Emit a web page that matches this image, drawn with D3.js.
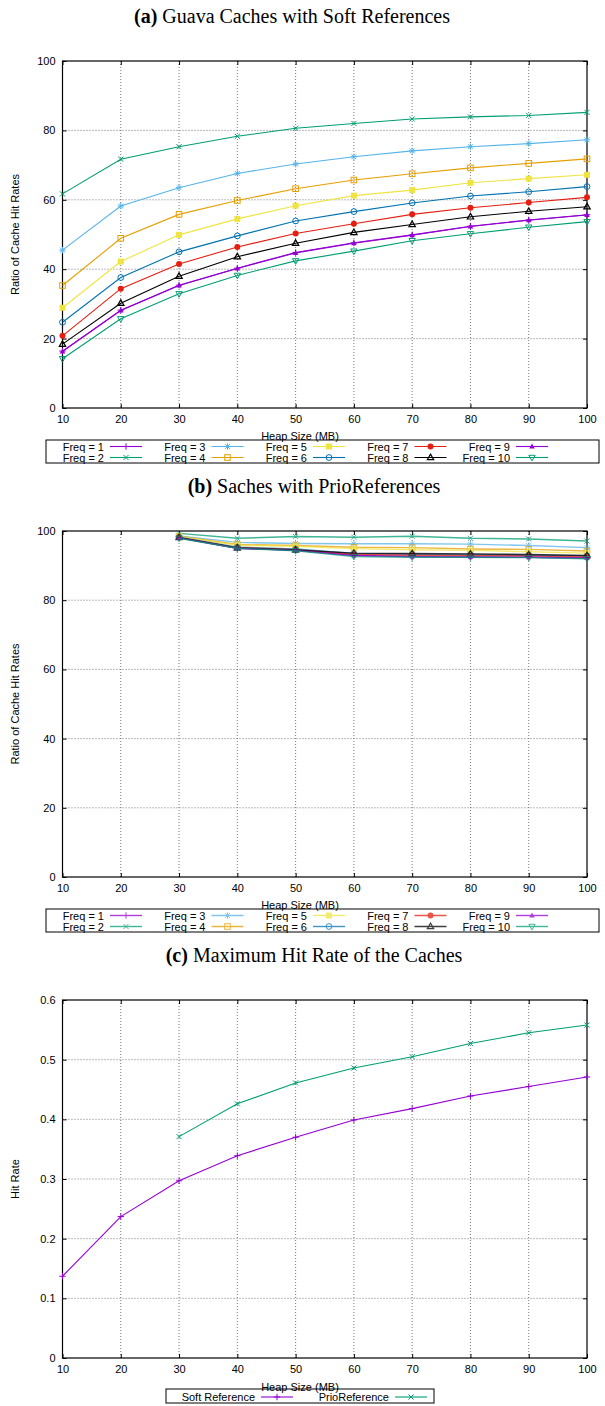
<!DOCTYPE html>
<html>
<head>
<meta charset="utf-8">
<script src="https://cdn.jsdelivr.net/npm/d3@7"></script>
<style>
  html, body { margin: 0; padding: 0; background: #fff; }
  svg { display: block; }
</style>
</head>
<body>
<svg id="chart" width="605" height="1406"></svg>
<script>
// ---------------- DATA ----------------
const heapSizes = [10, 20, 30, 40, 50, 60, 70, 80, 90, 100];
const heapSizesFrom30 = [30, 40, 50, 60, 70, 80, 90, 100];
const freqLabels = ["Freq = 1", "Freq = 2", "Freq = 3", "Freq = 4", "Freq = 5",
                    "Freq = 6", "Freq = 7", "Freq = 8", "Freq = 9", "Freq = 10"];
const xTicks = [10, 20, 30, 40, 50, 60, 70, 80, 90, 100];
const yTicksRatio = [0, 20, 40, 60, 80, 100];
const yTicksHit = [0, 0.1, 0.2, 0.3, 0.4, 0.5, 0.6];

// (a) Guava caches with soft references
const softFreq1  = [16.4, 28.2, 35.4, 40.3, 44.8, 47.6, 49.9, 52.4, 54.2, 55.7];
const softFreq2  = [61.7, 71.7, 75.3, 78.3, 80.6, 82.0, 83.3, 83.9, 84.3, 85.2];
const softFreq3  = [45.5, 58.2, 63.5, 67.6, 70.3, 72.4, 74.1, 75.3, 76.2, 77.3];
const softFreq4  = [35.3, 48.9, 55.8, 59.8, 63.2, 65.7, 67.5, 69.2, 70.5, 71.8];
const softFreq5  = [28.9, 42.2, 49.9, 54.5, 58.3, 61.2, 62.8, 64.9, 66.1, 67.2];
const softFreq6  = [24.7, 37.6, 45.0, 49.6, 53.9, 56.6, 59.1, 61.1, 62.3, 63.8];
const softFreq7  = [20.8, 34.4, 41.5, 46.4, 50.3, 53.1, 55.8, 57.7, 59.2, 60.7];
const softFreq8  = [18.4, 30.2, 38.0, 43.6, 47.5, 50.6, 52.9, 55.1, 56.7, 58.0];
const softFreq9  = [16.3, 28.1, 35.3, 40.2, 44.7, 47.5, 49.8, 52.3, 54.1, 55.6];
const softFreq10 = [14.2, 25.7, 32.9, 38.2, 42.4, 45.2, 48.2, 50.2, 52.1, 53.7];

// (b) caches with PrioReferences (heap 30..100)
const prioFreq1  = [98.0, 95.0, 94.4, 92.9, 92.6, 92.5, 92.4, 92.2];
const prioFreq2  = [99.3, 97.9, 98.4, 98.2, 98.5, 97.9, 97.7, 97.1];
const prioFreq3  = [98.6, 96.7, 96.4, 96.3, 96.3, 96.2, 95.8, 95.2];
const prioFreq4  = [98.5, 96.1, 95.8, 95.3, 95.2, 94.8, 94.7, 94.2];
const prioFreq5  = [98.4, 95.9, 95.6, 94.9, 94.6, 94.4, 94.0, 93.6];
const prioFreq6  = [98.2, 95.3, 94.8, 93.5, 93.3, 93.2, 93.0, 92.8];
const prioFreq7  = [98.1, 95.2, 94.6, 93.2, 93.0, 92.9, 92.8, 92.5];
const prioFreq8  = [98.1, 95.1, 94.5, 93.6, 93.5, 93.4, 93.2, 92.9];
const prioFreq9  = [98.0, 95.0, 94.4, 92.9, 92.6, 92.5, 92.4, 92.2];
const prioFreq10 = [97.9, 95.0, 94.3, 92.6, 92.4, 92.4, 92.3, 92.0];

// (c) maximum hit rate
const maxHitSoft = [0.137, 0.237, 0.297, 0.339, 0.370, 0.399, 0.418, 0.439, 0.455, 0.471];
const maxHitPrio = [0.371, 0.426, 0.461, 0.486, 0.505, 0.527, 0.545, 0.558];

// ---------------- STYLE ----------------
const freqColors = ["#9400d3", "#009e73", "#56b4e9", "#e69f00", "#f0e442",
                    "#0072b2", "#e51e10", "#000000", "#9400d3", "#009e73"];
const freqMarkers = ["plus", "cross", "star", "squareOpen", "squareFilled",
                     "circleOpen", "circleFilled", "triangleOpen", "triangleFilled", "triDownOpen"];

const svg = d3.select("#chart");
const FONT = '"Liberation Sans", Arial, Helvetica, sans-serif';
const SERIF = '"Liberation Serif", "Times New Roman", serif';

function drawMarker(g, type, x, y, color) {
  const s = 3.2;
  const sw = 1;
  switch (type) {
    case "plus":
      g.append("path").attr("d", `M${x - s},${y}H${x + s}M${x},${y - s}V${y + s}`)
        .attr("stroke", color).attr("stroke-width", sw).attr("fill", "none"); break;
    case "cross":
      g.append("path").attr("d", `M${x - s * 0.8},${y - s * 0.8}L${x + s * 0.8},${y + s * 0.8}M${x - s * 0.8},${y + s * 0.8}L${x + s * 0.8},${y - s * 0.8}`)
        .attr("stroke", color).attr("stroke-width", sw).attr("fill", "none"); break;
    case "star":
      g.append("path").attr("d", `M${x - s},${y}H${x + s}M${x},${y - s}V${y + s}M${x - s * 0.75},${y - s * 0.75}L${x + s * 0.75},${y + s * 0.75}M${x - s * 0.75},${y + s * 0.75}L${x + s * 0.75},${y - s * 0.75}`)
        .attr("stroke", color).attr("stroke-width", sw).attr("fill", "none"); break;
    case "squareOpen":
      g.append("rect").attr("x", x - 2.8).attr("y", y - 2.8).attr("width", 5.6).attr("height", 5.6)
        .attr("stroke", color).attr("stroke-width", sw).attr("fill", "none"); break;
    case "squareFilled":
      g.append("rect").attr("x", x - 3).attr("y", y - 3).attr("width", 6).attr("height", 6)
        .attr("fill", color); break;
    case "circleOpen":
      g.append("circle").attr("cx", x).attr("cy", y).attr("r", 2.9)
        .attr("stroke", color).attr("stroke-width", sw).attr("fill", "none"); break;
    case "circleFilled":
      g.append("circle").attr("cx", x).attr("cy", y).attr("r", 3)
        .attr("fill", color); break;
    case "triangleOpen":
      g.append("path").attr("d", `M${x},${y - 3.4}L${x + 3.2},${y + 2.2}L${x - 3.2},${y + 2.2}Z`)
        .attr("stroke", color).attr("stroke-width", 1.2).attr("fill", "none"); break;
    case "triangleFilled":
      g.append("path").attr("d", `M${x},${y - 3}L${x + 2.8},${y + 2}L${x - 2.8},${y + 2}Z`)
        .attr("fill", color); break;
    case "triDownOpen":
      g.append("path").attr("d", `M${x},${y + 3.4}L${x + 3.2},${y - 2.2}L${x - 3.2},${y - 2.2}Z`)
        .attr("stroke", color).attr("stroke-width", sw).attr("fill", "none"); break;
  }
}

function drawPanel(cfg) {
  const g = svg.append("g");
  const x = d3.scaleLinear().domain([10, 100]).range([cfg.left, cfg.right]);
  const y = d3.scaleLinear().domain(cfg.yDomain).range([cfg.bottom, cfg.top]);

  // title
  const t = g.append("text").attr("x", cfg.titleX).attr("y", cfg.titleY)
    .attr("text-anchor", "middle").attr("font-family", SERIF).attr("font-size", 20).attr("fill", "#000");
  t.append("tspan").attr("font-weight", "bold").text(cfg.titleBold);
  t.append("tspan").text(cfg.titleRest);

  // grid
  const grid = g.append("g").attr("stroke", "#555").attr("stroke-width", 0.8).attr("stroke-dasharray", "1,2");
  cfg.xTicks.slice(1, -1).forEach(v => {
    grid.append("line").attr("x1", x(v)).attr("x2", x(v)).attr("y1", cfg.top).attr("y2", cfg.bottom);
  });
  cfg.yTicks.slice(1, -1).forEach(v => {
    grid.append("line").attr("x1", cfg.left).attr("x2", cfg.right).attr("y1", y(v)).attr("y2", y(v));
  });

  // axes via d3 (inward ticks), plus mirrored ticks
  const axB = d3.axisBottom(x).tickValues(cfg.xTicks).tickSize(-4).tickPadding(7).tickFormat(d3.format("d"));
  const axT = d3.axisTop(x).tickValues(cfg.xTicks).tickSize(-4).tickFormat("");
  const axL = d3.axisLeft(y).tickValues(cfg.yTicks).tickSize(-4).tickPadding(7).tickFormat(cfg.yFormat);
  const axR = d3.axisRight(y).tickValues(cfg.yTicks).tickSize(-4).tickFormat("");
  [[axB, `translate(0,${cfg.bottom})`], [axT, `translate(0,${cfg.top})`],
   [axL, `translate(${cfg.left},0)`], [axR, `translate(${cfg.right},0)`]].forEach(([ax, tr]) => {
    const a = g.append("g").attr("transform", tr).call(ax);
    a.select(".domain").remove();
    a.selectAll("line").attr("stroke", "#000").attr("stroke-width", 1);
    a.selectAll("text").attr("font-family", FONT).attr("font-size", 11).attr("fill", "#000");
  });
  g.append("rect").attr("x", cfg.left).attr("y", cfg.top)
    .attr("width", cfg.right - cfg.left).attr("height", cfg.bottom - cfg.top)
    .attr("fill", "none").attr("stroke", "#000").attr("stroke-width", 1.2);

  // axis labels
  g.append("text").attr("transform", `translate(15,${(cfg.top + cfg.bottom) / 2}) rotate(-90)`)
    .attr("text-anchor", "middle").attr("dy", "0.35em").attr("font-family", FONT).attr("font-size", 11)
    .text(cfg.yLabel);
  g.append("text").attr("x", 300).attr("y", cfg.bottom + cfg.xLabelDy).attr("text-anchor", "middle")
    .attr("font-family", FONT).attr("font-size", 11).text("Heap Size (MB)");

  // series
  const line = d3.line().x(d => x(d[0])).y(d => y(d[1]));
  cfg.series.forEach(s => {
    const pts = s.xs.map((xv, i) => [xv, s.values[i]]);
    const sg = g.append("g").attr("opacity", cfg.seriesOpacity || 1);
    sg.append("path").datum(pts).attr("d", line).attr("fill", "none")
      .attr("stroke", s.color).attr("stroke-width", cfg.lineWidth || 1.1);
    pts.forEach(p => drawMarker(sg, s.marker, x(p[0]), y(p[1]), s.color));
  });

  // legend
  const lg = g.append("g");
  const L = cfg.legend;
  lg.append("rect").attr("x", L.x0).attr("y", cfg.bottom + L.top)
    .attr("width", L.x1 - L.x0).attr("height", L.h)
    .attr("fill", "none").attr("stroke", "#000").attr("stroke-width", 1);
  cfg.series.forEach((s, i) => {
    const col = Math.floor(i / L.rows), row = i % L.rows;
    const tx = L.textRight + col * L.colW;
    const cy = cfg.bottom + L.rowY[row];
    lg.append("text").attr("x", tx).attr("y", cy + 4).attr("text-anchor", "end")
      .attr("font-family", FONT).attr("font-size", 11).text(s.label);
    const lsg = lg.append("g").attr("opacity", cfg.seriesOpacity || 1);
    lsg.append("line").attr("x1", tx + 6).attr("x2", tx + 38).attr("y1", cy).attr("y2", cy)
      .attr("stroke", s.color).attr("stroke-width", cfg.lineWidth || 1.1);
    drawMarker(lsg, s.marker, tx + 22, cy, s.color);
  });
}

const softSeriesValues = [softFreq1, softFreq2, softFreq3, softFreq4, softFreq5,
                          softFreq6, softFreq7, softFreq8, softFreq9, softFreq10];
const prioSeriesValues = [prioFreq1, prioFreq2, prioFreq3, prioFreq4, prioFreq5,
                          prioFreq6, prioFreq7, prioFreq8, prioFreq9, prioFreq10];

const freqLegend = { x0: 46, x1: 599, top: 32, h: 23, rows: 2, rowY: [38.5, 49.5], textRight: 104, colW: 101.5 };

drawPanel({
  titleBold: "(a)", titleRest: " Guava Caches with Soft References", titleX: 292, titleY: 23,
  left: 62.5, right: 587, top: 61, bottom: 408, xLabelDy: 31.5,
  yDomain: [0, 100], xTicks: xTicks, yTicks: yTicksRatio, yFormat: d3.format("d"),
  yLabel: "Ratio of Cache Hit Rates",
  series: softSeriesValues.map((v, i) => ({ xs: heapSizes, values: v, color: freqColors[i], marker: freqMarkers[i], label: freqLabels[i] })),
  legend: freqLegend
});

drawPanel({
  titleBold: "(b)", titleRest: " Saches with PrioReferences", titleX: 314, titleY: 493,
  left: 62.5, right: 587, top: 531, bottom: 877, xLabelDy: 31.5,
  yDomain: [0, 100], xTicks: xTicks, yTicks: yTicksRatio, yFormat: d3.format("d"),
  yLabel: "Ratio of Cache Hit Rates",
  seriesOpacity: 0.75, lineWidth: 1.4,
  series: prioSeriesValues.map((v, i) => ({ xs: heapSizesFrom30, values: v, color: freqColors[i], marker: freqMarkers[i], label: freqLabels[i] })),
  legend: freqLegend
});

drawPanel({
  titleBold: "(c)", titleRest: " Maximum Hit Rate of the Caches", titleX: 314, titleY: 962,
  left: 62.5, right: 587, top: 1000, bottom: 1358, xLabelDy: 33,
  yDomain: [0, 0.6], xTicks: xTicks, yTicks: yTicksHit, yFormat: d => d === 0 ? "0" : d3.format(".1f")(d),
  yLabel: "Hit Rate",
  series: [
    { xs: heapSizes, values: maxHitSoft, color: "#9400d3", marker: "plus", label: "Soft Reference" },
    { xs: heapSizesFrom30, values: maxHitPrio, color: "#009e73", marker: "cross", label: "PrioReference" }
  ],
  legend: { x0: 166, x1: 434, top: 31, h: 14, rows: 1, rowY: [39], textRight: 255, colW: 134 }
});
</script>
</body>
</html>
